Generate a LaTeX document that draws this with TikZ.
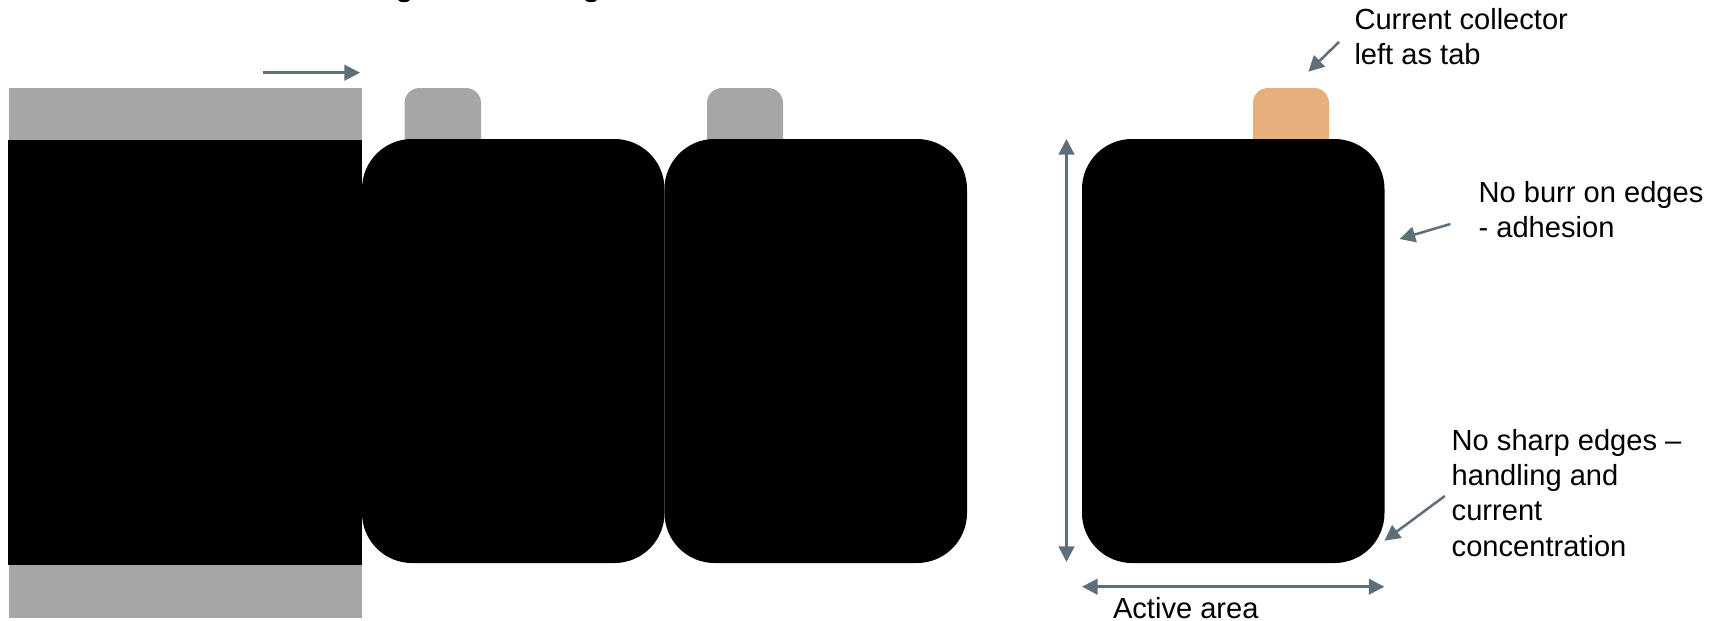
\documentclass[tikz,border=0pt]{standalone}
\usepackage{fontspec}
\setmainfont{Liberation Sans}
\usetikzlibrary{arrows.meta}
\definecolor{tabgray}{HTML}{A6A6A6}
\definecolor{taborange}{HTML}{E6AF7C}
\definecolor{arrowslate}{HTML}{5F6F7A}
\tikzset{
  x=0.5pt,y=-0.5pt,
  foil/.style={fill=tabgray,draw=none},
  coat/.style={fill=black,draw=none},
  pointer/.style={draw=arrowslate,line width=1.25pt,-{Triangle[length=7.8pt,width=7.8pt,fill=arrowslate]}},
  bothways/.style={draw=arrowslate,line width=1.25pt,{Triangle[length=7.8pt,width=7.8pt,fill=arrowslate]}-{Triangle[length=7.8pt,width=7.8pt,fill=arrowslate]}},
  note/.style={inner sep=0pt,outer sep=0pt,align=left,anchor=north west,font=\fontsize{14.55pt}{17.6pt}\selectfont},
}
\newcommand{\cellshape}[1]{%
  \fill[coat,rounded corners=25pt] (#1,139) rectangle (#1+302.5,563);}
\newcommand{\tabshape}[3]{%
  \fill[#3] (#2,145) -- (#1,145) [rounded corners=7.5pt] -- (#1,88) -- (#2,88) [sharp corners] -- (#2,145) -- cycle;}
\begin{document}
\begin{tikzpicture}
\useasboundingbox (0,0) rectangle (1721,621);
\fill[foil] (9,87.7) rectangle (362,141);
\fill[foil] (9,564) rectangle (362,617.5);
\fill[coat] (8,140) rectangle (362,564.5);
\tabshape{404.5}{481}{foil}
\tabshape{707}{783}{foil}
\tabshape{1253}{1329}{taborange}
\cellshape{362}
\cellshape{664.5}
\cellshape{1082}
% cropped descenders of the heading at the top edge
\fill[black] (398,0) .. controls (400,3) and (408,3) .. (410,0) -- cycle;
\fill[black] (585,0) .. controls (587,3) and (595,3) .. (597,0) -- cycle;
\coordinate (feedA) at (262.5,72.7);
\coordinate (feedB) at (360,72.7);
\draw[pointer] (feedA) -- (feedB);
\coordinate (tallA) at (1066.5,139);
\coordinate (tallB) at (1066.5,562);
\draw[bothways] (tallA) -- (tallB);
\coordinate (wideA) at (1082,586.7);
\coordinate (wideB) at (1384.4,586.7);
\draw[bothways] (wideA) -- (wideB);
\coordinate (tabA) at (1339,42);
\coordinate (tabB) at (1308.4,71.7);
\draw[pointer] (tabA) -- (tabB);
\coordinate (burrA) at (1450.4,224);
\coordinate (burrB) at (1399.6,239);
\draw[pointer] (burrA) -- (burrB);
\coordinate (sharpA) at (1444.8,496);
\coordinate (sharpB) at (1384.4,540.7);
\draw[pointer] (sharpA) -- (sharpB);
\node[note] (ncoll) at (1354.5,8.5) {Current collector\\left as tab};
\node[note] (nburr) at (1478.6,181) {No burr on edges\\- adhesion};
\node[note] (nsharp) at (1451.7,429.5) {No sharp edges –\\handling and\\current\\concentration};
\node[note] (nactive) at (1113,597.5) {Active area};
\end{tikzpicture}
\end{document}
